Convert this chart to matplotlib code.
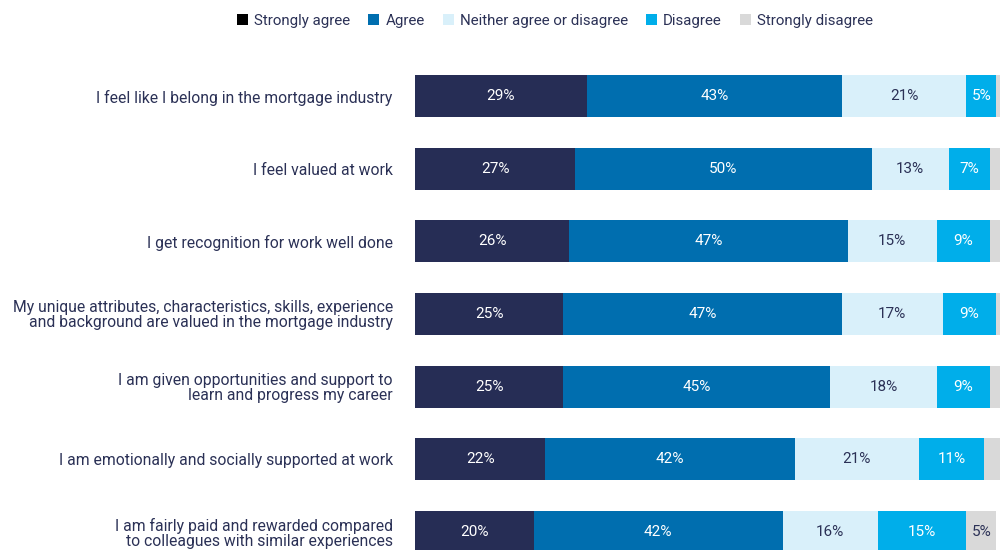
import matplotlib.pyplot as plt
from matplotlib.patches import Patch

plt.rcParams['font.family'] = ['Roboto', 'DejaVu Sans']

statements = [
    "I feel like I belong in the mortgage industry",
    "I feel valued at work",
    "I get recognition for work well done",
    "My unique attributes, characteristics, skills, experience\nand background are valued in the mortgage industry",
    "I am given opportunities and support to\nlearn and progress my career",
    "I am emotionally and socially supported at work",
    "I am fairly paid and rewarded compared\nto colleagues with similar experiences",
]
responses = ["Strongly agree", "Agree", "Neither agree or disagree",
             "Disagree", "Strongly disagree"]

strongly_agree = [29, 27, 26, 25, 25, 22, 20]
agree = [43, 50, 47, 47, 45, 42, 42]
neither = [21, 13, 15, 17, 18, 21, 16]
disagree = [5, 7, 9, 9, 9, 11, 15]
strongly_disagree = [2, 3, 3, 2, 3, 4, 5]
# only the last row prints its "strongly disagree" share
show_sd_label = [False, False, False, False, False, False, True]

colors = ["#262D55", "#006EAF", "#D9F0FA", "#00AEEA", "#D9D9D9"]
text_colors = ["white", "white", "#2B3156", "white", "#2B3156"]
legend_colors = ["#000000", "#006EAF", "#D9F0FA", "#00AEEA", "#D9D9D9"]

fig = plt.figure(figsize=(10, 5.5), dpi=100)
ax = fig.add_axes([0.415, -0.0333, 0.593, 0.9248])

series = [strongly_agree, agree, neither, disagree, strongly_disagree]
ypos = list(range(len(statements)))
left = [0] * len(statements)
for k, vals in enumerate(series):
    ax.barh(ypos, vals, left=left, height=0.58, color=colors[k],
            edgecolor="none")
    for i, v in enumerate(vals):
        if k == 4 and not show_sd_label[i]:
            continue
        ax.text(left[i] + v / 2, i, f"{v}%", ha="center", va="center",
                fontsize=11, color=text_colors[k])
    left = [a + b for a, b in zip(left, vals)]

ax.set_xlim(0, 100)
ax.set_ylim(6.5, -0.5)
ax.set_yticks(ypos)
ax.set_yticklabels(statements, fontsize=11.3, color="#2B3156",
                   linespacing=1.0)
ax.tick_params(axis="y", length=0, pad=16)
ax.set_xticks([])
for s in ax.spines.values():
    s.set_visible(False)

handles = [Patch(facecolor=c, edgecolor="none") for c in legend_colors]
fig.legend(handles, responses, loc="center", bbox_to_anchor=(0.555, 0.962),
           ncol=5, frameon=False, fontsize=10.8, handlelength=0.75,
           handleheight=0.75, handletextpad=0.4, columnspacing=1.2,
           labelcolor="#2B3156")

fig.savefig("out.png", dpi=100)
